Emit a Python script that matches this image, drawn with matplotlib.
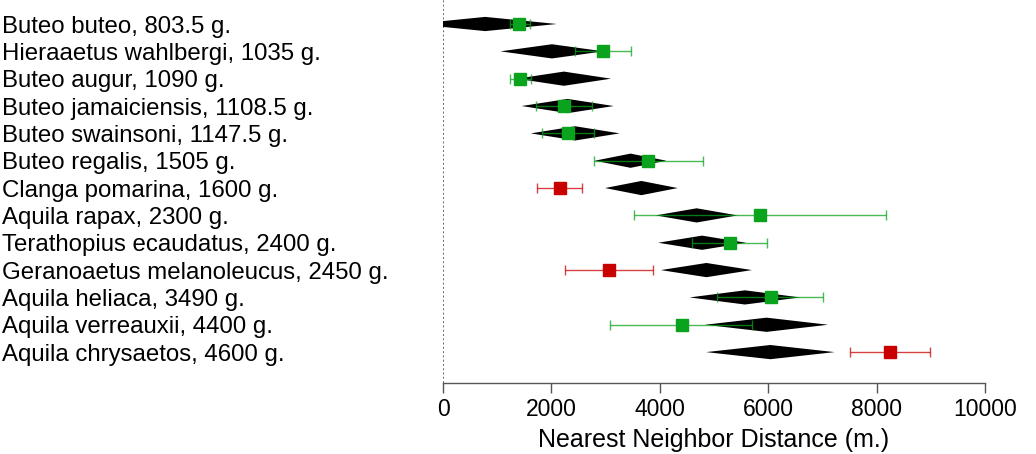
import matplotlib
matplotlib.use("Agg")
import matplotlib.pyplot as plt

plt.rcParams['font.family'] = ['Liberation Sans', 'DejaVu Sans']

species = ["Buteo buteo, 803.5 g.", "Hieraaetus wahlbergi, 1035 g.", "Buteo augur, 1090 g.",
           "Buteo jamaiciensis, 1108.5 g.", "Buteo swainsoni, 1147.5 g.", "Buteo regalis, 1505 g.",
           "Clanga pomarina, 1600 g.", "Aquila rapax, 2300 g.", "Terathopius ecaudatus, 2400 g.",
           "Geranoaetus melanoleucus, 2450 g.", "Aquila heliaca, 3490 g.", "Aquila verreauxii, 4400 g.",
           "Aquila chrysaetos, 4600 g."]

# predicted (diamond) centre and half width
pred_center = [780, 2010, 2230, 2300, 2440, 3460, 3660, 4680, 4780, 4860, 5570, 5970, 6040]
pred_half = [1320, 950, 870, 850, 820, 660, 670, 755, 810, 840, 1020, 1135, 1185]

# observed mean with interval
obs_mean = [1410, 2950, 1420, 2235, 2300, 3780, 2150, 5850, 5290, 3060, 6060, 4410, 8250]
obs_lo = [1230, 2440, 1230, 1720, 1820, 2780, 1730, 3530, 4590, 2250, 5060, 3090, 7500]
obs_hi = [1600, 3460, 1615, 2750, 2780, 4790, 2560, 8170, 5970, 3870, 7020, 5700, 8990]
outside = [False, False, False, False, False, False, True, False, False, True, False, False, True]

green = "#0aa31e"
red = "#c80000"

fig = plt.figure(figsize=(10.36, 4.54), dpi=100)
ax = fig.add_axes([443 / 1036, 71 / 454, 542 / 1036, 383 / 454])

h = 0.26
for i in range(len(species)):
    c = pred_center[i]
    w = pred_half[i]
    ax.fill([c - w, c, c + w, c], [i, i - h, i, i + h], color="black", lw=0, zorder=2)
    col = red if outside[i] else green
    ax.errorbar(obs_mean[i], i,
                xerr=[[obs_mean[i] - obs_lo[i]], [obs_hi[i] - obs_mean[i]]],
                fmt="none", ecolor=col, elinewidth=1.0, capsize=3.6, capthick=1.0,
                alpha=0.75, zorder=3)
    ax.plot(obs_mean[i], i, "s", color=col, markersize=8.6, zorder=4)

ax.axvline(0, color="#666666", ls=(0, (1, 1.2)), lw=1.4, zorder=1)

ax.set_xlim(0, 10000)
ax.set_ylim(13.13, -0.878)
ax.set_xticks([0, 2000, 4000, 6000, 8000, 10000])
ax.set_yticks(range(len(species)))
ax.set_yticklabels(species, ha="left", fontsize=17.3)
ax.tick_params(axis="y", length=0, pad=317.5)
ax.tick_params(axis="x", labelsize=16.5, length=7, width=1, color="#555555", pad=4)
ax.set_xlabel("Nearest Neighbor Distance (m.)", fontsize=18, labelpad=5)

for s in ["top", "right", "left"]:
    ax.spines[s].set_visible(False)
ax.spines["bottom"].set_color("#555555")
ax.spines["bottom"].set_linewidth(1)

fig.savefig("out.png", dpi=100)
